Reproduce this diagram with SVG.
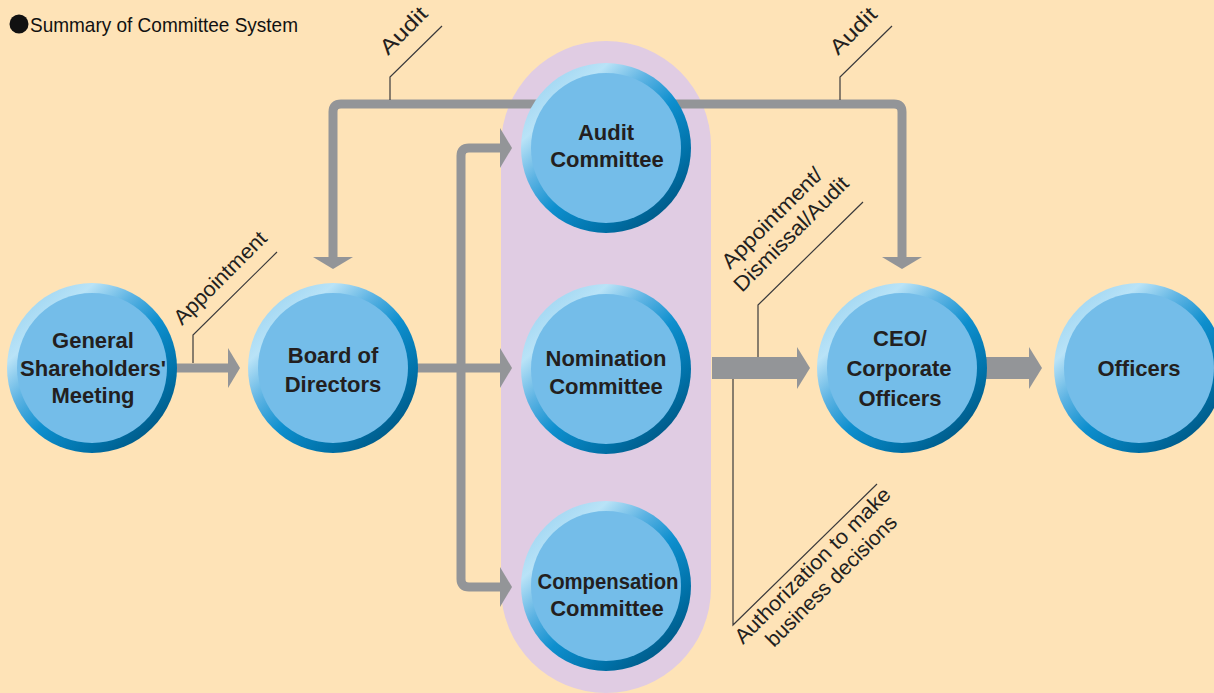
<svg xmlns="http://www.w3.org/2000/svg" width="1214" height="693" viewBox="0 0 1214 693">
  <defs>
    <linearGradient id="ring" x1="0.12" y1="0.08" x2="0.88" y2="0.92">
      <stop offset="0" stop-color="#9ED5F2"/>
      <stop offset="0.18" stop-color="#B9E3F7"/>
      <stop offset="0.36" stop-color="#5DB3E3"/>
      <stop offset="0.55" stop-color="#0E8FCE"/>
      <stop offset="0.8" stop-color="#0071A8"/>
      <stop offset="1" stop-color="#005581"/>
    </linearGradient>
    <polygon id="head" points="0,-20 12,0 0,20"/>
    <polygon id="headWide" points="0,-21 13,0 0,21"/>
    <style>
      .bg { fill: #FEE3B7; }
      .band { fill: #E0CCE3; }
      .wire { fill: none; stroke: #939598; stroke-width: 9; }
      .gray { fill: #939598; }
      .leader { fill: none; stroke: #3A3A3C; stroke-width: 1.2; }
      .ring { fill: url(#ring); }
      .disc { fill: #74BDE9; }
      .name { font-family: "Liberation Sans", Arial, sans-serif; font-weight: bold; font-size: 22px; fill: #231F20; text-anchor: middle; }
      .lbl { font-family: "Liberation Sans", Arial, sans-serif; font-size: 21px; fill: #231F20; }
      .title { font-family: "Liberation Sans", Arial, sans-serif; font-size: 21px; fill: #111; }
    </style>
  </defs>

  <rect class="bg" x="0" y="0" width="1214" height="693"/>

  <!-- heading -->
  <circle cx="19" cy="24" r="9.5" fill="#111"/>
  <text class="title" x="30" y="32" textLength="268" lengthAdjust="spacingAndGlyphs">Summary of Committee System</text>

  <!-- committee band -->
  <path class="band" d="M501,146 A105,105 0 0 1 711,146 V588 A105,105 0 0 1 501,588 Z"/>

  <g id="connectors">
    <!-- audit loop from the Audit Committee -->
    <path class="wire" d="M333,258 V112 Q333,104 341,104 H894 Q902,104 902,112 V258"/>
    <use href="#head" class="gray" transform="translate(333,257) rotate(90)"/>
    <use href="#head" class="gray" transform="translate(902,257) rotate(90)"/>

    <!-- shareholders to board -->
    <path class="wire" d="M175,368 H229"/>
    <use href="#head" class="gray" transform="translate(228,368)"/>

    <!-- board to the three committees -->
    <path class="wire" d="M416,368 H501"/>
    <path class="wire" d="M501,148 H469 Q461,148 461,156 V579 Q461,587 469,587 H501"/>
    <use href="#head" class="gray" transform="translate(500,148)"/>
    <use href="#head" class="gray" transform="translate(500,368)"/>
    <use href="#head" class="gray" transform="translate(500,587)"/>

    <!-- committees to CEO -->
    <rect class="gray" x="712" y="357" width="86" height="22"/>
    <use href="#headWide" class="gray" transform="translate(797,368)"/>

    <!-- CEO to officers -->
    <rect class="gray" x="980" y="357" width="50" height="22"/>
    <use href="#headWide" class="gray" transform="translate(1029,368)"/>

    <!-- label leaders -->
    <polyline class="leader" points="193,363 193,335 277,252"/>
    <polyline class="leader" points="390,100 390,77 442,26"/>
    <polyline class="leader" points="840,100 840,77 892,26"/>
    <polyline class="leader" points="758,357 758,305 863,202"/>
    <polyline class="leader" points="733,379 733,625 877,484"/>
  </g>

  <!-- connector labels -->
  <g id="labels">
    <text class="lbl" transform="translate(182,326) rotate(-45)" textLength="122" lengthAdjust="spacingAndGlyphs">Appointment</text>
    <text class="lbl" transform="translate(388,56) rotate(-45)" textLength="58" lengthAdjust="spacingAndGlyphs">Audit</text>
    <text class="lbl" transform="translate(838,56) rotate(-45)" textLength="57" lengthAdjust="spacingAndGlyphs">Audit</text>
    <text class="lbl" transform="translate(730,270) rotate(-45)" textLength="133" lengthAdjust="spacingAndGlyphs">Appointment/</text>
    <text class="lbl" transform="translate(742,293) rotate(-45)" textLength="153" lengthAdjust="spacingAndGlyphs">Dismissal/Audit</text>
    <text class="lbl" transform="translate(743,645) rotate(-45)" textLength="211" lengthAdjust="spacingAndGlyphs">Authorization to make</text>
    <text class="lbl" transform="translate(774,648) rotate(-45)" textLength="176" lengthAdjust="spacingAndGlyphs">business decisions</text>
  </g>

  <g id="gsm">
    <circle class="ring" cx="92" cy="368" r="85"/>
    <circle class="disc" cx="92" cy="368" r="75"/>
    <text class="name" x="93" y="348">General</text>
    <text class="name" x="93" y="376">Shareholders'</text>
    <text class="name" x="93" y="403">Meeting</text>
  </g>

  <g id="board">
    <circle class="ring" cx="333" cy="368" r="85"/>
    <circle class="disc" cx="333" cy="368" r="75"/>
    <text class="name" x="333" y="363">Board of</text>
    <text class="name" x="333" y="392">Directors</text>
  </g>

  <g id="audit-committee">
    <circle class="ring" cx="606" cy="148" r="85"/>
    <circle class="disc" cx="606" cy="148" r="75"/>
    <text class="name" x="606" y="140">Audit</text>
    <text class="name" x="607" y="167">Committee</text>
  </g>

  <g id="nomination-committee">
    <circle class="ring" cx="606" cy="369" r="85"/>
    <circle class="disc" cx="606" cy="369" r="75"/>
    <text class="name" x="606" y="366">Nomination</text>
    <text class="name" x="606" y="394">Committee</text>
  </g>

  <g id="compensation-committee">
    <circle class="ring" cx="606" cy="586" r="85"/>
    <circle class="disc" cx="606" cy="586" r="75"/>
    <text class="name" x="608" y="589" textLength="141" lengthAdjust="spacingAndGlyphs">Compensation</text>
    <text class="name" x="607" y="616">Committee</text>
  </g>

  <g id="ceo">
    <circle class="ring" cx="902" cy="368" r="85"/>
    <circle class="disc" cx="902" cy="368" r="75"/>
    <text class="name" x="900" y="346">CEO/</text>
    <text class="name" x="899" y="376">Corporate</text>
    <text class="name" x="900" y="406">Officers</text>
  </g>

  <g id="officers">
    <circle class="ring" cx="1139" cy="368" r="85"/>
    <circle class="disc" cx="1139" cy="368" r="75"/>
    <text class="name" x="1139" y="376">Officers</text>
  </g>
</svg>
